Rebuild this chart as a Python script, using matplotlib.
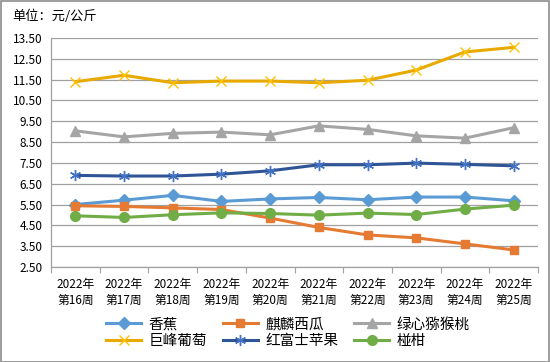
import matplotlib
matplotlib.use("Agg")
import matplotlib.pyplot as plt
from matplotlib.patches import Rectangle
import numpy as np

plt.rcParams['font.family'] = ['Noto Sans CJK SC', 'DejaVu Sans']

categories = ["2022年\n第16周", "2022年\n第17周", "2022年\n第18周", "2022年\n第19周", "2022年\n第20周",
              "2022年\n第21周", "2022年\n第22周", "2022年\n第23周", "2022年\n第24周", "2022年\n第25周"]
banana = [5.50, 5.71, 5.94, 5.65, 5.77, 5.84, 5.73, 5.86, 5.86, 5.68]
watermelon = [5.44, 5.41, 5.34, 5.26, 4.85, 4.40, 4.04, 3.90, 3.61, 3.32]
kiwi = [9.04, 8.75, 8.92, 8.98, 8.85, 9.28, 9.11, 8.80, 8.69, 9.19]
grape = [11.40, 11.71, 11.35, 11.43, 11.43, 11.35, 11.47, 11.96, 12.83, 13.05]
apple = [6.90, 6.87, 6.87, 6.96, 7.12, 7.41, 7.41, 7.49, 7.43, 7.36]
citrus = [4.96, 4.88, 5.01, 5.10, 5.07, 4.99, 5.09, 5.02, 5.28, 5.47]
yticks = [2.50, 3.50, 4.50, 5.50, 6.50, 7.50, 8.50, 9.50, 10.50, 11.50, 12.50, 13.50]

fig = plt.figure(figsize=(5.5, 3.62), dpi=100)
ax = fig.add_axes([51/550, 1-267/362, (538-51)/550, (267-38)/362])
x = np.arange(len(categories))

series = [
    ("香蕉", banana, "#5B9BD5", "#5B9BD5", "D", 6),
    ("麒麟西瓜", watermelon, "#E57A33", "#E57A33", "s", 6),
    ("绿心猕猴桃", kiwi, "#A5A5A5", "#A5A5A5", "^", 7),
    ("巨峰葡萄", grape, "#E8A900", "#FFC000", "x", 7),
    ("红富士苹果", apple, "#2F5597", "#4472C4", (6, 2, 0), 8),
    ("椪柑", citrus, "#70AD47", "#70AD47", "o", 7),
]
order = [2, 3, 4, 0, 1, 5]
handles = {}
for i in order:
    name, vals, lc, mc, mk, ms = series[i]
    ln, = ax.plot(x, vals, color=lc, lw=2.2, marker=mk, markersize=ms,
                  markerfacecolor=mc, markeredgecolor=mc, markeredgewidth=1.0,
                  label=name, zorder=3)
    handles[i] = ln

ax.set_xlim(-0.5, len(categories) - 0.5)
ax.set_ylim(2.5, 13.5)
ax.set_yticks(yticks)
ax.set_yticklabels([f"{v:.2f}" for v in yticks], fontsize=8.5)
ax.tick_params(axis='y', length=0, pad=6)
ax.yaxis.grid(True, color="#A0A0A0", lw=0.9)
ax.set_axisbelow(True)

ax.set_xticks(np.arange(-0.5, len(categories), 1.0))
ax.set_xticklabels([])
ax.set_xticks(x, minor=True)
ax.set_xticklabels(categories, minor=True, fontsize=8.5, linespacing=1.3)
ax.tick_params(axis='x', which='major', length=4, color="#A0A0A0", direction='out')
ax.tick_params(axis='x', which='minor', length=0, pad=8)

for s in ["top", "right"]:
    ax.spines[s].set_visible(False)
ax.spines["left"].set_color("#A0A0A0")
ax.spines["bottom"].set_color("#A0A0A0")
ax.spines["left"].set_linewidth(0.9)
ax.spines["bottom"].set_linewidth(0.9)

fig.text(12/550, 1-16/362, "单位：元/公斤", fontsize=9.5, va='center', ha='left')

leg_order = [0, 3, 1, 4, 2, 5]
leg = fig.legend([handles[i] for i in leg_order], [series[i][0] for i in leg_order],
                 loc='center left', bbox_to_anchor=(93/550, 1-333/362), ncol=3, frameon=False,
                 fontsize=10.5, handlelength=2.4, columnspacing=1.1, handletextpad=0.5,
                 labelspacing=0.2)

fig.patches.append(Rectangle((0.001, 0.001), 0.997, 0.996, transform=fig.transFigure,
                             fill=False, edgecolor="#8C8C8C", lw=1.2))

fig.savefig("out.png", dpi=100)
